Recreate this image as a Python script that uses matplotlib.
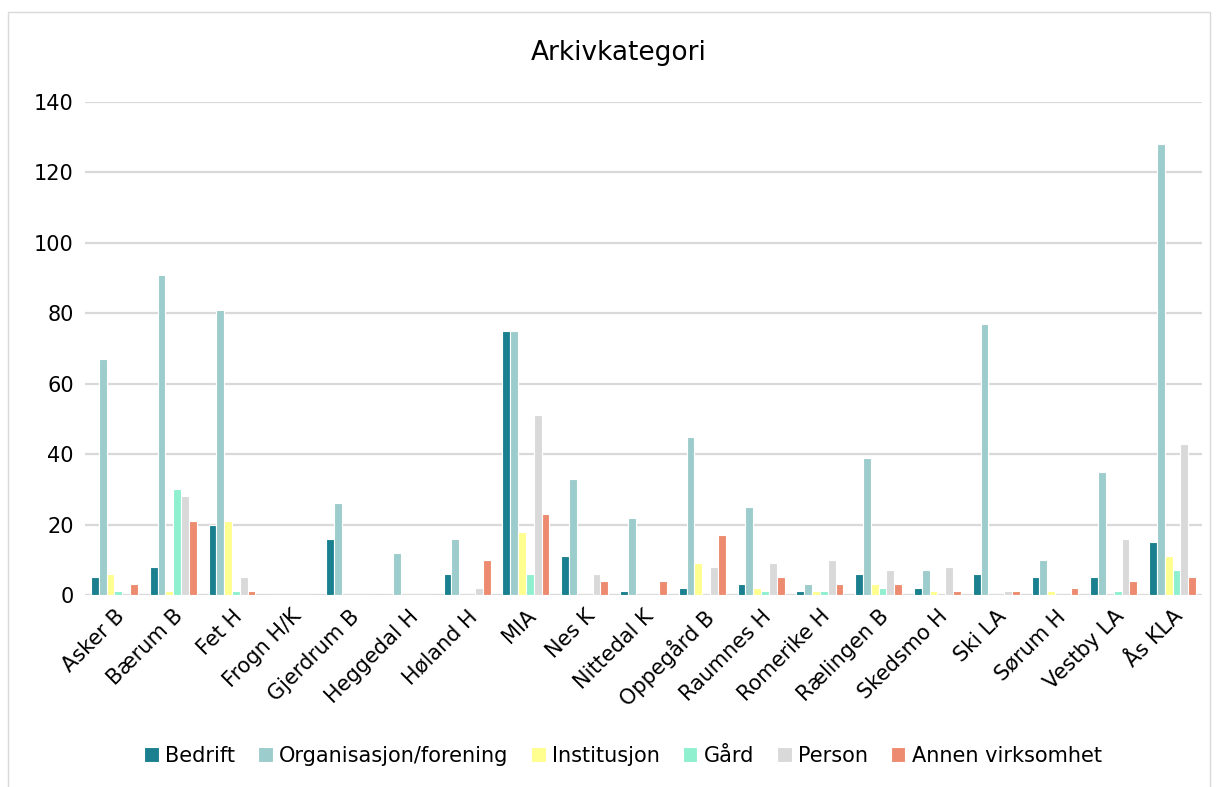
import matplotlib
matplotlib.use("Agg")
import matplotlib.pyplot as plt
import numpy as np
from matplotlib.patches import Rectangle

categories = ["Asker B", "Bærum B", "Fet H", "Frogn H/K", "Gjerdrum B", "Heggedal H",
              "Høland H", "MIA", "Nes K", "Nittedal K", "Oppegård B", "Raumnes H",
              "Romerike H", "Rælingen B", "Skedsmo H", "Ski LA", "Sørum H", "Vestby LA", "Ås KLA"]
series_names = ["Bedrift", "Organisasjon/forening", "Institusjon", "Gård", "Person", "Annen virksomhet"]
bedrift      = [5, 8, 20, 0, 16, 0, 6, 75, 11, 1, 2, 3, 1, 6, 2, 6, 5, 5, 15]
organisasjon = [67, 91, 81, 0, 26, 12, 16, 75, 33, 22, 45, 25, 3, 39, 7, 77, 10, 35, 128]
institusjon  = [6, 1, 21, 0, 0, 0, 0, 18, 0, 0, 9, 2, 1, 3, 1, 0, 1, 0, 11]
gaard        = [1, 30, 1, 0, 0, 0, 0, 6, 0, 0, 0, 1, 1, 2, 0, 0, 0, 1, 7]
person       = [0, 28, 5, 0, 0, 0, 2, 51, 6, 0, 8, 9, 10, 7, 8, 1, 0, 16, 43]
annen        = [3, 21, 1, 0, 0, 0, 10, 23, 4, 4, 17, 5, 3, 3, 1, 1, 2, 4, 5]
yticks = [0, 20, 40, 60, 80, 100, 120, 140]

colors = ["#1a7f8e", "#9dcccc", "#ffff8f", "#8ff0d0", "#d9d9d9", "#ec8b70"]
data = [bedrift, organisasjon, institusjon, gaard, person, annen]

plt.rcParams['font.family'] = ['DejaVu Sans']

fig = plt.figure(figsize=(12.18, 7.87), dpi=100)
ax = fig.add_axes([85/1218, 1-595/787, (1202-85)/1218, (595-102)/787])

x = np.arange(len(categories))
w = 0.133
for i, (vals, c, name) in enumerate(zip(data, colors, series_names)):
    ax.bar(x + (i - 2.5) * w, vals, width=w, color=c, edgecolor="white", linewidth=0.8, label=name, zorder=3)

ax.set_xlim(-0.5, len(categories) - 0.5)
ax.set_ylim(0, 140)
ax.set_yticks(yticks)
ax.set_yticklabels([str(t) for t in yticks], fontsize=15)
ax.grid(axis="y", color="#d9d9d9", linewidth=1.6, zorder=0)
ax.set_axisbelow(True)
for s in ax.spines.values():
    s.set_visible(False)
ax.tick_params(axis="both", length=0, pad=8)
ax.set_xticks(x)
ax.set_xticklabels(categories, rotation=45, ha="right", rotation_mode="anchor", fontsize=15)

fig.text(619/1218, 1-53/787, "Arkivkategori", ha="center", va="center", fontsize=19)

leg = fig.legend(loc="center", bbox_to_anchor=(623/1218, 1-756/787), ncol=6, frameon=False,
                 fontsize=15, handlelength=0.7, handleheight=0.7, handletextpad=0.3, columnspacing=1.1)

fig.patches.append(Rectangle((8/1218, -0.01), (1210-8)/1218, 1-12/787+0.01, transform=fig.transFigure,
                             fill=False, edgecolor="#d9d9d9", linewidth=1))

fig.savefig("out.png", dpi=100)
